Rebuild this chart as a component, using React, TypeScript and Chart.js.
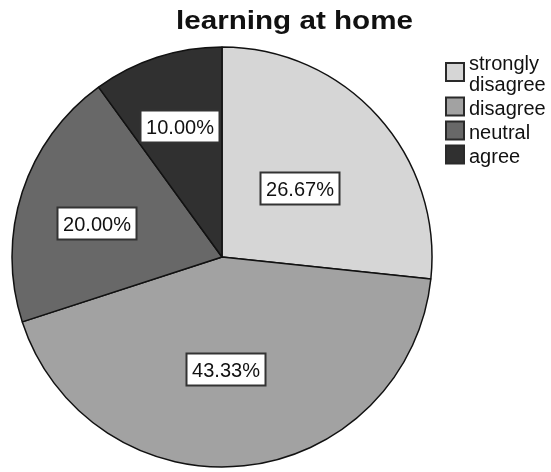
import React, { useEffect, useRef } from "react";
import { Chart, registerables } from "chart.js";

Chart.register(...registerables);

const TITLE = "learning at home";
const CATEGORIES = ["strongly disagree", "disagree", "neutral", "agree"];
const PERCENTS = [26.67, 43.33, 20.0, 10.0];
const COLORS = ["#d6d6d6", "#a2a2a2", "#686868", "#303030"];

// Where each percentage box sits inside its slice: share of the radius, and a small angular nudge in degrees
const LABEL_RADIUS = [0.494, 0.533, 0.621, 0.654];
const LABEL_NUDGE = [0, 4, -3, 0];

const FONT = "'Liberation Sans', Arial, sans-serif";
const W = 551;
const H = 472;

function wrapWords(ctx: CanvasRenderingContext2D, text: string, maxWidth: number): string[] {
  const words = text.split(" ");
  const lines: string[] = [];
  let cur = "";
  for (const w of words) {
    const test = cur ? cur + " " + w : w;
    if (cur && ctx.measureText(test).width > maxWidth) {
      lines.push(cur);
      cur = w;
    } else {
      cur = test;
    }
  }
  if (cur) lines.push(cur);
  return lines;
}

const decorPlugin = {
  id: "pieDecor",
  afterDatasetsDraw(chart: Chart) {
    const ctx = chart.ctx;
    const meta = chart.getDatasetMeta(0);
    ctx.save();
    ctx.font = `20px ${FONT}`;
    meta.data.forEach((arc: any, i: number) => {
      const p = arc.getProps(["x", "y", "startAngle", "endAngle", "outerRadius"], true);
      const a = (p.startAngle + p.endAngle) / 2 + (LABEL_NUDGE[i] * Math.PI) / 180;
      const r = p.outerRadius * LABEL_RADIUS[i];
      const cx = p.x + Math.cos(a) * r;
      const cy = p.y + Math.sin(a) * r;
      const text = PERCENTS[i].toFixed(2) + "%";
      const w = Math.round(ctx.measureText(text).width + 11);
      const h = 32;
      const bx = Math.round(cx - w / 2) + 0.5;
      const by = Math.round(cy - h / 2) + 0.5;
      ctx.fillStyle = "#ffffff";
      ctx.fillRect(bx, by, w, h);
      ctx.strokeStyle = "#333333";
      ctx.lineWidth = 2;
      ctx.strokeRect(bx, by, w, h);
      ctx.fillStyle = "#111111";
      ctx.textAlign = "center";
      ctx.textBaseline = "alphabetic";
      ctx.fillText(text, bx + w / 2, by + h / 2 + 7.5);
    });
    ctx.restore();
  },
  afterDraw(chart: Chart) {
    const ctx = chart.ctx;
    ctx.save();
    // title, drawn slightly wide
    ctx.font = `bold 25.5px ${FONT}`;
    ctx.fillStyle = "#111111";
    ctx.textAlign = "center";
    ctx.textBaseline = "alphabetic";
    const tw = ctx.measureText(TITLE).width;
    ctx.translate(294.5, 28.5);
    ctx.scale(237 / tw, 1);
    ctx.fillText(TITLE, 0, 0);
    ctx.setTransform(1, 0, 0, 1, 0, 0);

    // legend
    ctx.font = `20px ${FONT}`;
    ctx.textAlign = "left";
    const boxX = 446;
    const textX = 469;
    const lineH = 21;
    let baseline = 70;
    CATEGORIES.forEach((cat, i) => {
      const lines = wrapWords(ctx, cat, 84);
      const last = baseline + (lines.length - 1) * lineH;
      const centerY = (baseline + last) / 2 - 8.5;
      const s = 18;
      ctx.fillStyle = COLORS[i];
      ctx.fillRect(boxX, centerY - s / 2, s, s);
      ctx.strokeStyle = "#2a2a2a";
      ctx.lineWidth = 2;
      ctx.strokeRect(boxX, centerY - s / 2, s, s);
      ctx.fillStyle = "#111111";
      lines.forEach((ln, k) => ctx.fillText(ln, textX, baseline + k * lineH));
      baseline = last + 24;
    });
    ctx.restore();
  },
};

export default function App() {
  const ref = useRef<HTMLCanvasElement | null>(null);

  useEffect(() => {
    if (!ref.current) return;
    const chart = new Chart(ref.current, {
      type: "pie",
      data: {
        labels: CATEGORIES,
        datasets: [
          {
            data: PERCENTS,
            backgroundColor: COLORS,
            borderColor: "#111111",
            borderWidth: 1.5,
            radius: 210,
          } as any,
        ],
      },
      options: {
        responsive: false,
        animation: false,
        layout: { padding: { left: 12, top: 47, right: 119, bottom: 5 } },
        plugins: {
          legend: { display: false },
          title: { display: false },
          tooltip: { enabled: false },
        },
      },
      plugins: [decorPlugin],
    });
    return () => chart.destroy();
  }, []);

  return (
    <div style={{ position: "absolute", left: 0, top: 0, width: W, height: H, background: "#fff" }}>
      <canvas ref={ref} width={W} height={H} style={{ display: "block" }} />
    </div>
  );
}
